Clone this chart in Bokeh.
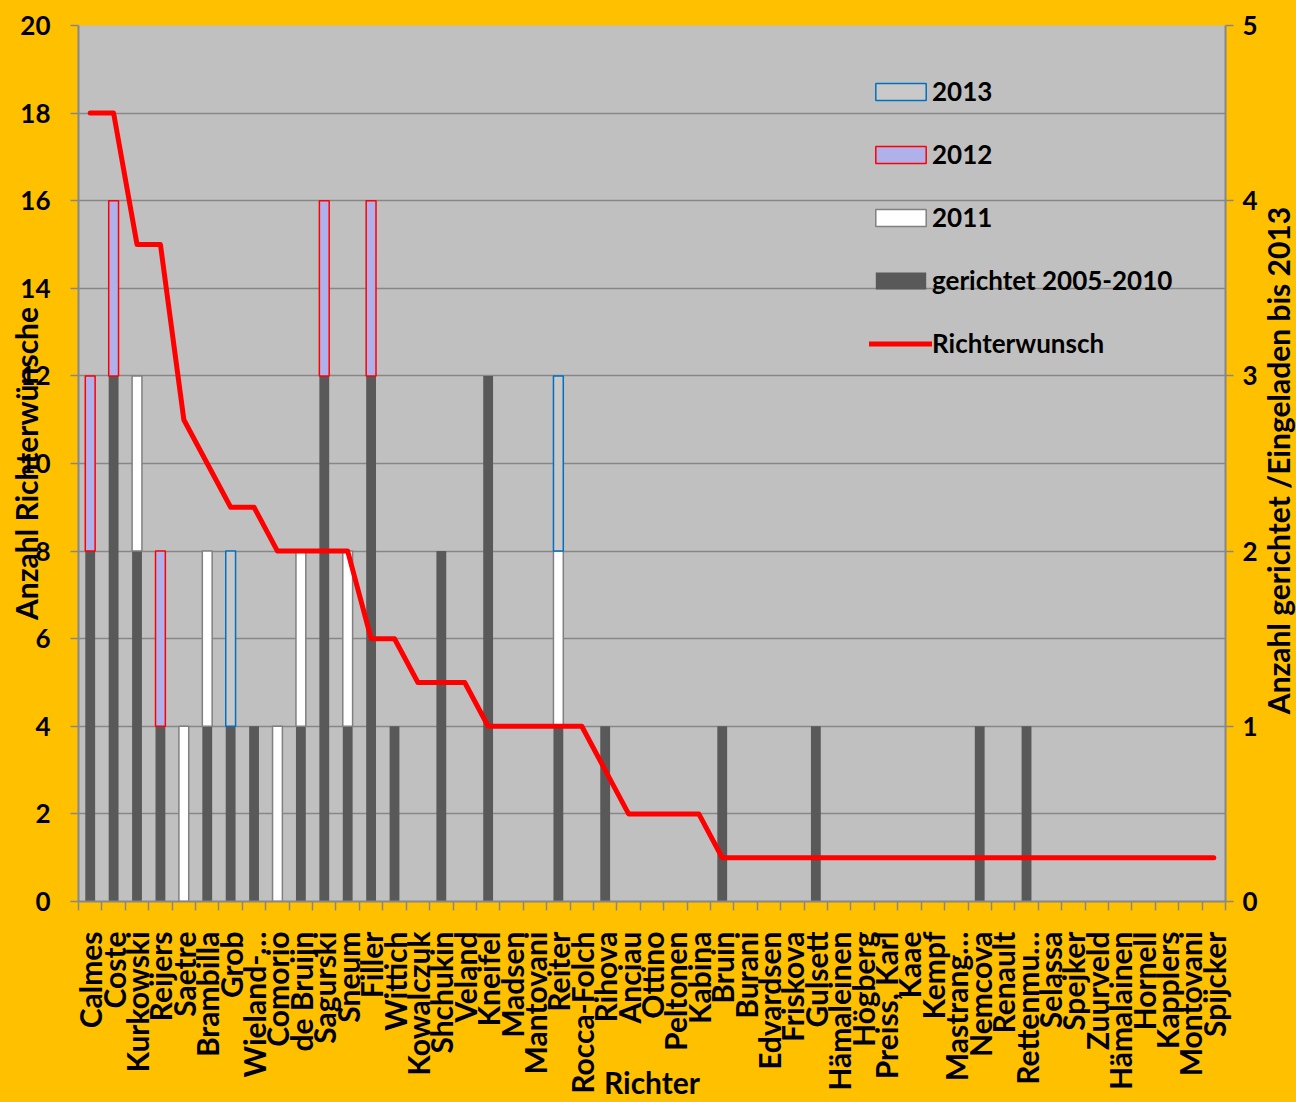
import math
from bokeh.plotting import figure
from bokeh.models import Range1d, LinearAxis, FixedTicker, Legend, LegendItem, ColumnDataSource, Label
from bokeh.embed import file_html
from bokeh.resources import INLINE

richter = ["Calmes", "Coste", "Kurkowski", "Reijers", "Saetre", "Brambilla", "Grob", "Wieland-…",
           "Comorio", "de Bruijn", "Sagurski", "Sneum", "Filler", "Wittich", "Kowalczuk", "Shchukin",
           "Veland", "Kneifel", "Madsen", "Mantovani", "Reiter", "Rocca-Folch", "Rihova", "Anciau",
           "Ottino", "Peltonen", "Kabina", "Bruin", "Burani", "Edvardsen", "Friskova", "Gulsett",
           "Hämaleinen", "Högberg", "Preiss, Karl", "Kaae", "Kempf", "Mastrang…", "Nemcova", "Renault",
           "Rettenmu…", "Selassa", "Spejker", "Zuurveld", "Hämalainen", "Hornell", "Kapplers",
           "Montovani", "Spijcker"]

# Richterwunsch (left axis)
richterwunsch = [18, 18, 15, 15, 11, 10, 9, 9, 8, 8, 8, 8, 6, 6, 5, 5, 5, 4, 4, 4, 4, 4, 3, 2,
                 2, 2, 2, 1, 1, 1, 1, 1, 1, 1, 1, 1, 1, 1, 1, 1, 1, 1, 1, 1, 1, 1, 1, 1, 1]

# right axis: gerichtet / eingeladen
gerichtet_2005_2010 = [2, 3, 2, 1, 0, 1, 1, 1, 0, 1, 3, 1, 3, 1, 0, 2, 0, 3, 0, 0, 1, 0, 1, 0,
                       0, 0, 0, 1, 0, 0, 0, 1, 0, 0, 0, 0, 0, 0, 1, 0, 1, 0, 0, 0, 0, 0, 0, 0, 0]
jahr_2011 = [0, 0, 1, 0, 1, 1, 0, 0, 1, 1, 0, 1, 0, 0, 0, 0, 0, 0, 0, 0, 1, 0, 0, 0,
             0, 0, 0, 0, 0, 0, 0, 0, 0, 0, 0, 0, 0, 0, 0, 0, 0, 0, 0, 0, 0, 0, 0, 0, 0]
jahr_2012 = [1, 1, 0, 1, 0, 0, 0, 0, 0, 0, 1, 0, 1, 0, 0, 0, 0, 0, 0, 0, 0, 0, 0, 0,
             0, 0, 0, 0, 0, 0, 0, 0, 0, 0, 0, 0, 0, 0, 0, 0, 0, 0, 0, 0, 0, 0, 0, 0, 0]
jahr_2013 = [0, 0, 0, 0, 0, 0, 1, 0, 0, 0, 0, 0, 0, 0, 0, 0, 0, 0, 0, 0, 1, 0, 0, 0,
             0, 0, 0, 0, 0, 0, 0, 0, 0, 0, 0, 0, 0, 0, 0, 0, 0, 0, 0, 0, 0, 0, 0, 0, 0]

x_title = "Richter"
y_title = "Anzahl Richterwünsche"
y2_title = "Anzahl gerichtet /Eingeladen bis 2013"

FONT = "Lato"
GRID = "#878787"
idx = list(range(len(richter)))

p = figure(width=1296, height=1102, x_range=Range1d(-0.5, len(richter) - 0.5), y_range=Range1d(0, 20),
           output_backend="svg", toolbar_location=None,
           min_border_left=78, min_border_right=69, min_border_top=25, min_border_bottom=200,
           background_fill_color="#C0C0C0", border_fill_color="#FFC000", outline_line_color=None)
p.extra_y_ranges = {"right": Range1d(0, 5)}

# grid
p.xgrid.visible = False
p.ygrid.ticker = FixedTicker(ticks=list(range(2, 21, 2)))
p.ygrid.grid_line_color = GRID
p.ygrid.grid_line_width = 1.5

# x axis
xa = p.xaxis[0]
xa.ticker = FixedTicker(ticks=idx, minor_ticks=[i - 0.5 for i in range(len(richter) + 1)])
xa.major_label_overrides = {i: n for i, n in enumerate(richter)}
xa.major_label_orientation = math.pi / 2
xa.major_tick_out = 0
xa.major_tick_in = 0
xa.minor_tick_out = 9
xa.minor_tick_in = 0
xa.minor_tick_line_color = GRID
xa.minor_tick_line_width = 1.5
xa.axis_line_color = GRID
xa.axis_line_width = 2
xa.major_label_standoff = 21
xa.axis_label = x_title
xa.axis_label_standoff = -33

# left axis
ya = p.yaxis[0]
ya.ticker = FixedTicker(ticks=list(range(0, 21, 2)))
ya.major_tick_out = 8
ya.major_tick_in = 0
ya.minor_tick_out = 0
ya.minor_tick_in = 0
ya.major_tick_line_color = GRID
ya.major_tick_line_width = 1.5
ya.axis_line_color = GRID
ya.axis_line_width = 2
ya.major_label_standoff = 20
ya.axis_label = y_title
ya.axis_label_standoff = -27

# right axis
ra = LinearAxis(y_range_name="right", ticker=FixedTicker(ticks=[0, 1, 2, 3, 4, 5]))
ra.major_tick_out = 8
ra.major_tick_in = 0
ra.minor_tick_out = 0
ra.minor_tick_in = 0
ra.major_tick_line_color = GRID
ra.major_tick_line_width = 1.5
ra.axis_line_color = GRID
ra.axis_line_width = 2
ra.major_label_standoff = 9
p.add_layout(ra, "right")

for ax in (xa, ya, ra):
    ax.major_label_text_font = FONT
    ax.major_label_text_font_style = "bold"
    ax.major_label_text_font_size = "26px"
    ax.major_label_text_color = "black"
    ax.axis_label_text_font = FONT
    ax.axis_label_text_font_style = "bold"
    ax.axis_label_text_font_size = "30px"
    ax.axis_label_text_color = "black"
xa.major_label_text_font_size = "30px"

# right-hand axis title, placed in the right side panel (reads bottom to top)
p.add_layout(Label(x=17, y=441, x_units="screen", y_units="screen", text=y2_title,
                   angle=math.pi / 2, text_align="center", text_baseline="middle",
                   text_font=FONT, text_font_style="bold", text_font_size="30px",
                   text_color="black"), "right")

# stacked bars (right axis)
series = [
    ("gerichtet 2005-2010", gerichtet_2005_2010, "#595959", None),
    ("2011", jahr_2011, "#FFFFFF", "#808080"),
    ("2012", jahr_2012, "#B0B0EA", "#FF0000"),
    ("2013", jahr_2013, "#C9C9C9", "#0070C0"),
]
base = [0] * len(richter)
bar_renderers = {}
for name, vals, fill, line in series:
    xs, bots, tops = [], [], []
    for i, v in enumerate(vals):
        if v > 0:
            xs.append(i)
            bots.append(base[i])
            tops.append(base[i] + v)
    src = ColumnDataSource(dict(x=xs, bottom=bots, top=tops))
    r = p.vbar(x="x", bottom="bottom", top="top", width=0.42, source=src, y_range_name="right",
               fill_color=fill, line_color=line if line else fill, line_width=1.5 if line else 0)
    bar_renderers[name] = r
    base = [base[i] + vals[i] for i in range(len(richter))]

line_r = p.line(x=idx, y=richterwunsch, line_color="#FF0000", line_width=5,
                line_join="round", line_cap="round")

legend = Legend(items=[
    LegendItem(label="2013", renderers=[bar_renderers["2013"]]),
    LegendItem(label="2012", renderers=[bar_renderers["2012"]]),
    LegendItem(label="2011", renderers=[bar_renderers["2011"]]),
    LegendItem(label="gerichtet 2005-2010", renderers=[bar_renderers["gerichtet 2005-2010"]]),
    LegendItem(label="Richterwunsch", renderers=[line_r]),
], location=(791, 542))
legend.background_fill_alpha = 0
legend.border_line_color = None
legend.label_text_font = FONT
legend.label_text_font_style = "bold"
legend.label_text_font_size = "26px"
legend.label_text_color = "black"
legend.glyph_width = 63
legend.glyph_height = 21
legend.label_standoff = 0
legend.spacing = 31
legend.padding = 0
legend.margin = 0
p.add_layout(legend)

html = file_html(p, INLINE, title="Richterwünsche")
html = html.replace("</head>", "<style>body{background:#FFC000;}</style></head>", 1)
open("out.html", "w").write(html)
